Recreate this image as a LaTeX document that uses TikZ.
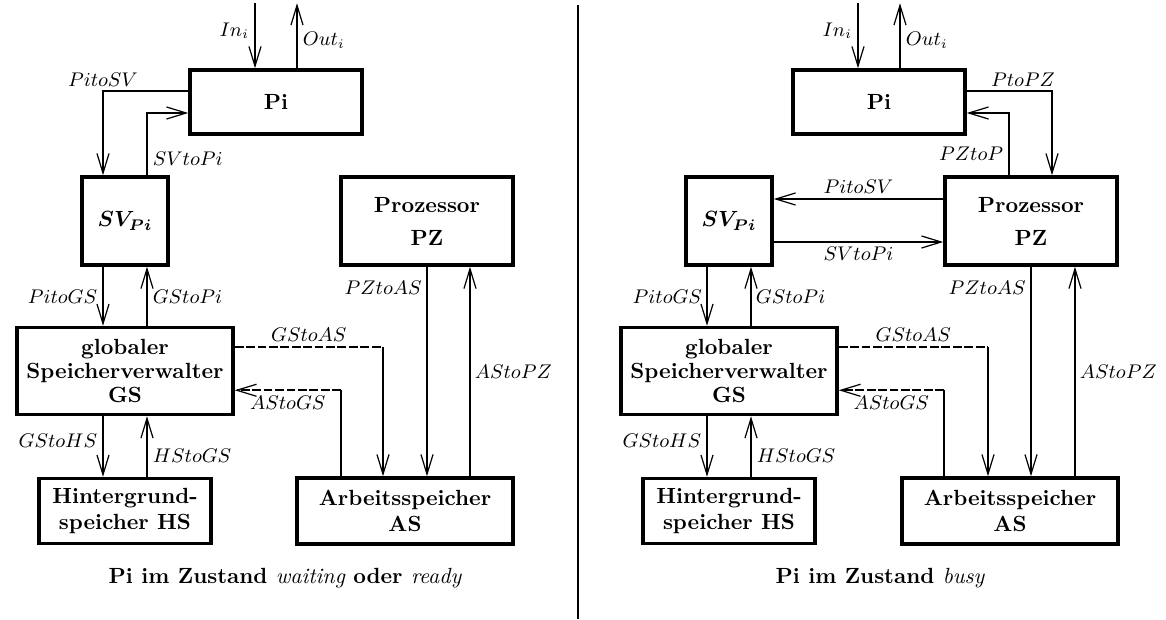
\documentclass[tikz,border=0pt]{standalone}
\usepackage{amsmath,amssymb}
\usepackage{tikz}
\usetikzlibrary{arrows.meta,positioning,calc}
\begin{document}
\begin{tikzpicture}[x=0.016cm,y=-0.016cm,
  >={Straight Barb[length=9pt,width=5.5pt,line width=0.55pt]},
  box/.style={draw,line width=1.6pt,align=center,inner sep=0pt,font=\bfseries},
  lbl/.style={font=\small,inner sep=2pt},
  thk/.style={line width=1.3pt},
  mid/.style={line width=0.9pt},
  thn/.style={line width=0.5pt},
  dsh/.style={line width=0.9pt,dash pattern=on 4pt off 1.2pt}]
\useasboundingbox (0,0) rectangle (1166,619);
% ---- left half: Pi waiting / ready ----
\node[box,minimum width=2.752cm,minimum height=1.024cm] (lPi) at (276,102) {Pi};
\node[box,minimum width=1.376cm,minimum height=1.408cm] (lSV) at (125,221) {$\boldsymbol{SV_{Pi}}$};
\node[box,minimum width=2.752cm,minimum height=1.408cm] (lPZ) at (427,221) {Prozessor\\[3pt]PZ};
\node[box,minimum width=3.456cm,minimum height=1.392cm] (lGS) at (125,371) {globaler\\[-1pt]Speicherverwalter\\[-1pt]GS};
\node[box,minimum width=2.752cm,minimum height=1.04cm] (lHS) at (125,511) {Hintergrund-\\speicher HS};
\node[box,minimum width=3.456cm,minimum height=1.056cm] (lAS) at (405,511) {Arbeitsspeicher\\AS};
\coordinate (lIn) at ($(lPi.north)+(-21,-65)$);
\coordinate (lOut) at ($(lPi.north)+(21,-65)$);
\draw[thk,->] (lIn) -- node[lbl,left,pos=0.42]{$In_i$} (lIn |- lPi.north);
\draw[thk,->] (lOut |- lPi.north) -- node[lbl,right,pos=0.43]{$Out_i$} (lOut);
\draw[thn,->] ($(lPi.west)+(0,-11)$) -| node[lbl,above,pos=0.5]{$PitoSV$} ($(lSV.north)+(-22,0)$);
\draw[thk,->] ($(lSV.north)+(22,0)$) |- node[lbl,right,pos=0.13]{$SVtoPi$} ($(lPi.west)+(0,11)$);
\draw[thk,->] ($(lSV.south)+(-22,0)$) -- node[lbl,left]{$PitoGS$} ($(lGS.north)+(-22,0)$);
\draw[thk,->] ($(lGS.north)+(22,0)$) -- node[lbl,right]{$GStoPi$} ($(lSV.south)+(22,0)$);
\draw[thk,->] ($(lGS.south)+(-22,0)$) -- node[lbl,left,pos=0.4]{$GStoHS$} ($(lHS.north)+(-22,0)$);
\draw[thk,->] ($(lHS.north)+(22,0)$) -- node[lbl,right,pos=0.35]{$HStoGS$} ($(lGS.south)+(22,0)$);
\coordinate (lGA) at ($(lAS.north)+(-22,-129)$);
\coordinate (lAG) at ($(lAS.north)+(-64,-86)$);
\draw[dsh] (lGA -| lGS.east) -- node[lbl,above]{$GStoAS$} (lGA);
\draw[mid,->] (lGA) -- (lGA |- lAS.north);
\draw[mid] (lAG |- lAS.north) -- (lAG);
\draw[dsh,->] (lAG) -- node[lbl,below]{$AStoGS$} (lAG -| lGS.east);
\coordinate (lAP) at ($(lPZ.south)+(43,0)$);
\draw[mid,->] (lPZ.south) -- node[lbl,left,pos=0.1]{$PZtoAS$} (lPZ.south |- lAS.north);
\draw[thn,->] (lAP |- lAS.north) -- node[lbl,right]{$AStoPZ$} (lAP);
\node (lCap) at (285,578) {\bfseries Pi im Zustand {\normalfont\itshape waiting} oder {\normalfont\itshape ready}};
% ---- divider ----
\coordinate (dTop) at (578,5);
\coordinate (dBot) at (578,619);
\draw[line width=0.7pt] (dTop) -- (dBot);
% ---- right half: Pi busy ----
\node[box,minimum width=2.752cm,minimum height=1.024cm] (rPi) at (879,102) {Pi};
\node[box,minimum width=1.376cm,minimum height=1.408cm] (rSV) at (729,221) {$\boldsymbol{SV_{Pi}}$};
\node[box,minimum width=2.752cm,minimum height=1.408cm] (rPZ) at (1031,221) {Prozessor\\[3pt]PZ};
\node[box,minimum width=3.456cm,minimum height=1.392cm] (rGS) at (729,371) {globaler\\[-1pt]Speicherverwalter\\[-1pt]GS};
\node[box,minimum width=2.752cm,minimum height=1.04cm] (rHS) at (729,511) {Hintergrund-\\speicher HS};
\node[box,minimum width=3.456cm,minimum height=1.056cm] (rAS) at (1010,511) {Arbeitsspeicher\\AS};
\coordinate (rIn) at ($(rPi.north)+(-21,-65)$);
\coordinate (rOut) at ($(rPi.north)+(21,-65)$);
\draw[thk,->] (rIn) -- node[lbl,left,pos=0.42]{$In_i$} (rIn |- rPi.north);
\draw[thk,->] (rOut |- rPi.north) -- node[lbl,right,pos=0.43]{$Out_i$} (rOut);
\draw[thn,->] ($(rPi.east)+(0,-11)$) -| node[lbl,above,pos=0.33]{$PtoPZ$} ($(rPZ.north)+(21,0)$);
\draw[thk,->] ($(rPZ.north)+(-22,0)$) |- node[lbl,left,pos=0.17]{$PZtoP$} ($(rPi.east)+(0,11)$);
\draw[mid,->] ($(rPZ.west)+(0,-22)$) -- node[lbl,above]{$PitoSV$} ($(rSV.east)+(0,-22)$);
\draw[mid,->] ($(rSV.east)+(0,21)$) -- node[lbl,below]{$SVtoPi$} ($(rPZ.west)+(0,21)$);
\draw[thn,->] ($(rSV.south)+(-22,0)$) -- node[lbl,left]{$PitoGS$} ($(rGS.north)+(-22,0)$);
\draw[thn,->] ($(rGS.north)+(22,0)$) -- node[lbl,right]{$GStoPi$} ($(rSV.south)+(22,0)$);
\draw[thk,->] ($(rGS.south)+(-22,0)$) -- node[lbl,left,pos=0.4]{$GStoHS$} ($(rHS.north)+(-22,0)$);
\draw[thk,->] ($(rHS.north)+(22,0)$) -- node[lbl,right,pos=0.35]{$HStoGS$} ($(rGS.south)+(22,0)$);
\coordinate (rGA) at ($(rAS.north)+(-22,-129)$);
\coordinate (rAG) at ($(rAS.north)+(-66,-86)$);
\draw[dsh] (rGA -| rGS.east) -- node[lbl,above]{$GStoAS$} (rGA);
\draw[mid,->] (rGA) -- (rGA |- rAS.north);
\draw[mid] (rAG |- rAS.north) -- (rAG);
\draw[dsh,->] (rAG) -- node[lbl,below]{$AStoGS$} (rAG -| rGS.east);
\coordinate (rAP) at ($(rPZ.south)+(44,0)$);
\draw[mid,->] (rPZ.south) -- node[lbl,left,pos=0.1]{$PZtoAS$} (rPZ.south |- rAS.north);
\draw[thn,->] (rAP |- rAS.north) -- node[lbl,right]{$AStoPZ$} (rAP);
\node (rCap) at (880,578) {\bfseries Pi im Zustand {\normalfont\itshape busy}};
\end{tikzpicture}
\end{document}
